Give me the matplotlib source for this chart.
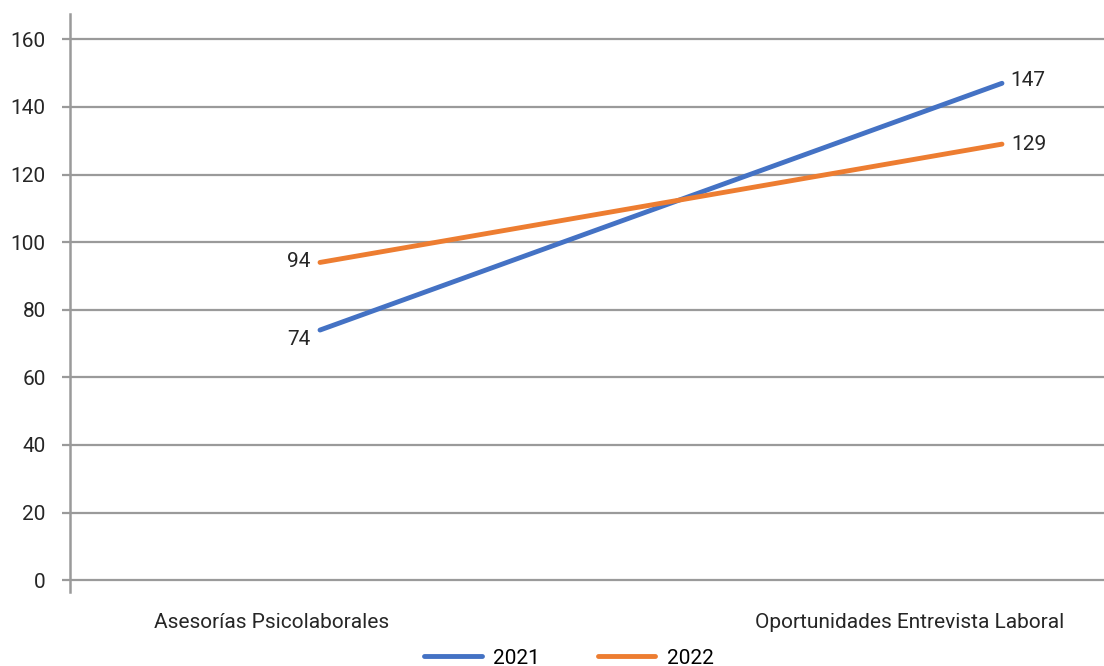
import matplotlib.pyplot as plt

plt.rcParams['font.family'] = ['Roboto', 'DejaVu Sans']

categorias = ["Asesorías Psicolaborales", "Oportunidades Entrevista Laboral"]
valores_2021 = [74, 147]
valores_2022 = [94, 129]
series = ["2021", "2022"]
colores = ["#4472C4", "#ED7D31"]

fs = 15
fig = plt.figure(figsize=(11.04, 6.66), dpi=100)
# ejes: izquierda en x=70px, derecha en el borde, abajo y=592px, arriba y=14px
ax = fig.add_axes([70/1104, 74/666, 1034/1104, 578/666])

x = [0, 1]
for vals, nombre, c in zip([valores_2021, valores_2022], series, colores):
    ax.plot(x, vals, color=c, lw=3.5, solid_capstyle='round', label=nombre)

# etiquetas de datos
ax.annotate(str(valores_2021[0]), (0, valores_2021[0]), xytext=(-7, -7), textcoords='offset points',
            ha='right', va='center', fontsize=fs, color='#262626')
ax.annotate(str(valores_2022[0]), (0, valores_2022[0]), xytext=(-7, 1), textcoords='offset points',
            ha='right', va='center', fontsize=fs, color='#262626')
ax.annotate(str(valores_2021[1]), (1, valores_2021[1]), xytext=(6, 2), textcoords='offset points',
            ha='left', va='center', fontsize=fs, color='#262626')
ax.annotate(str(valores_2022[1]), (1, valores_2022[1]), xytext=(7, 0), textcoords='offset points',
            ha='left', va='center', fontsize=fs, color='#262626')

ax.set_xlim(-0.3666, 1.1496)
ax.set_ylim(-3.5, 167.5)
ax.set_yticks(range(0, 161, 20))
ax.set_xticks([-0.0704, 0.865])
ax.set_xticklabels(categorias, fontsize=fs, color='#262626')
ax.tick_params(axis='x', length=0, pad=15)
ax.tick_params(axis='y', length=5.5, width=1.6, color='#9a9a9a', labelsize=fs,
               labelcolor='#262626', pad=12)

ax.grid(axis='y', color='#9a9a9a', lw=1.6)
ax.set_axisbelow(True)
for s in ['top', 'right', 'bottom']:
    ax.spines[s].set_visible(False)
ax.spines['left'].set_color('#9a9a9a')
ax.spines['left'].set_linewidth(1.8)

ax.legend(loc='center', bbox_to_anchor=(569/1104, 8/666), bbox_transform=fig.transFigure,
          ncol=2, frameon=False, fontsize=fs, handlelength=2.75, columnspacing=2.8,
          handletextpad=0.55)

fig.savefig("out.png", dpi=100)
